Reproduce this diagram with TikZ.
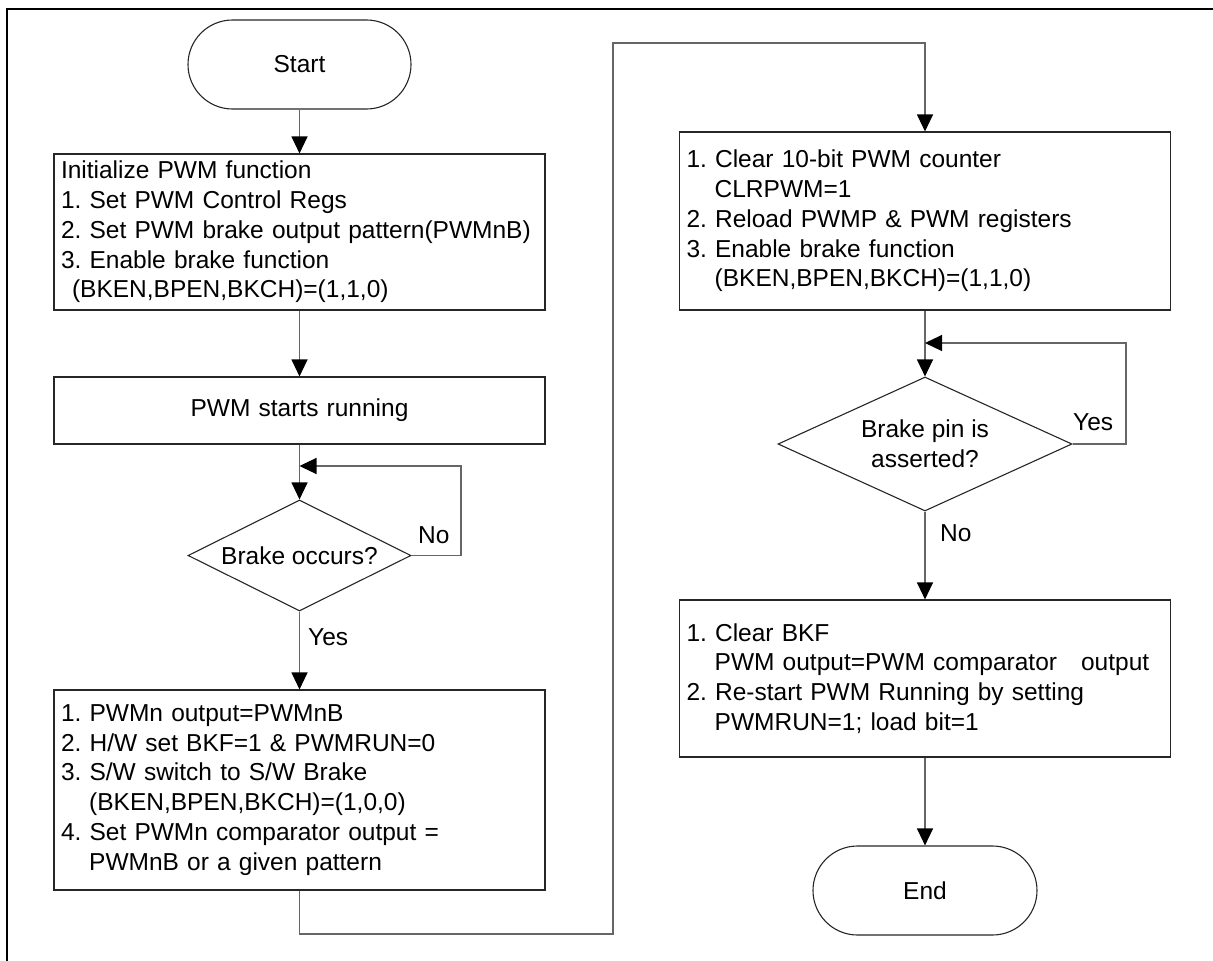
\documentclass[tikz,border=0pt]{standalone}
\usepackage{fontspec}
\setmainfont{Liberation Sans}
\usetikzlibrary{arrows.meta,shapes.geometric}
\frenchspacing
\begin{document}
\begin{tikzpicture}[x=1pt,y=-1pt,
  txt/.style={font=\fontsize{24.5}{29.8}\selectfont\frenchspacing, text=black},
  box/.style={txt, draw=black!85, line width=1.1pt, rectangle, minimum width=491pt,
    text width=477pt, inner xsep=7pt, inner ysep=0pt, align=left},
  cbox/.style={box, align=center},
  term/.style={txt, draw=black!85, line width=1.1pt, rectangle, rounded corners=44.5pt,
    minimum height=89pt, inner sep=0pt},
  dec/.style={txt, draw=black!85, line width=1.1pt, diamond, inner sep=0pt, align=center},
  conn/.style={draw=black!60, line width=1.1pt},
  arr/.style={conn, -{Triangle[length=17pt,width=16pt,color=black]}},
  lbl/.style={txt, inner sep=0pt, anchor=base west}
]
\useasboundingbox (0,0) rectangle (1213,961);
% frame (top and left edges)
\draw[line width=2.5pt, black] (7,961) -- (7,9) -- (1213,9);

% left column
\node[term, minimum width=223pt] (start) at (299.5,64.5) {Start};
\node[box, minimum height=156pt] (init) at (299.5,232) {Initialize PWM function\\
1. Set PWM Control Regs\\
2. Set PWM brake output pattern(PWMnB)\\
3. Enable brake function\\
\hspace*{11pt}(BKEN,BPEN,BKCH)=(1,1,0)};
\node[cbox, minimum height=67pt] (run) at (299.5,410.5) {PWM starts running};
\node[dec, aspect=2, minimum width=223pt, minimum height=111pt] (d1) at (299.5,555.5) {Brake occurs?};
\node[box, minimum height=200pt] (b3) at (299.5,790) {1. PWMn output=PWMnB\\
2. H/W set BKF=1 \& PWMRUN=0\\
3. S/W switch to S/W Brake\\
\hspace*{1.15em}(BKEN,BPEN,BKCH)=(1,0,0)\\
4. Set PWMn comparator output =\\
\hspace*{1.15em}PWMnB or a given pattern};

% right column
\node[box, minimum height=178pt] (r1) at (925,221) {1. Clear 10-bit PWM counter\\
\hspace*{1.15em}CLRPWM=1\\
2. Reload PWMP \& PWM registers\\
3. Enable brake function\\
\hspace*{1.15em}(BKEN,BPEN,BKCH)=(1,1,0)};
\node[dec, aspect=2.19, minimum width=294pt, minimum height=134pt] (d2) at (925,444) {Brake pin is\\asserted?};
\node[box, minimum height=157pt] (r2) at (925,678.5) {1. Clear BKF\\
\hspace*{1.15em}PWM output=PWM comparator\hspace{24pt}output\\
2. Re-start PWM Running by setting\\
\hspace*{1.15em}PWMRUN=1; load bit=1};
\node[term, minimum width=224pt] (end) at (925,890.5) {End};

% labels
\node[lbl] (no1) at (418,543) {No};
\node[lbl] (yes1) at (308,645) {Yes};
\node[lbl] (yes2) at (1073,430) {Yes};
\node[lbl] (no2) at (940,541) {No};

% helper coordinates
\coordinate (l1) at (461,466);
\coordinate (c1) at (613,934);
\coordinate (c2) at (613,43);
\coordinate (l2) at (1126,343);

% connectors
\draw[arr] (start) -- (init);
\draw[arr] (init) -- (run);
\draw[arr] (run) -- (d1);
\draw[arr] (d1.east) -| (l1) -- (l1 -| d1);
\draw[arr] (d1) -- (b3);
\draw[arr] (b3.south) |- (c1) -- (c2) -| (r1.north);
\draw[arr] (r1) -- (d2);
\draw[arr] (d2.east) -| (l2) -- (l2 -| d2);
\draw[arr] (d2) -- (r2);
\draw[arr] (r2) -- (end);
\end{tikzpicture}
\end{document}
